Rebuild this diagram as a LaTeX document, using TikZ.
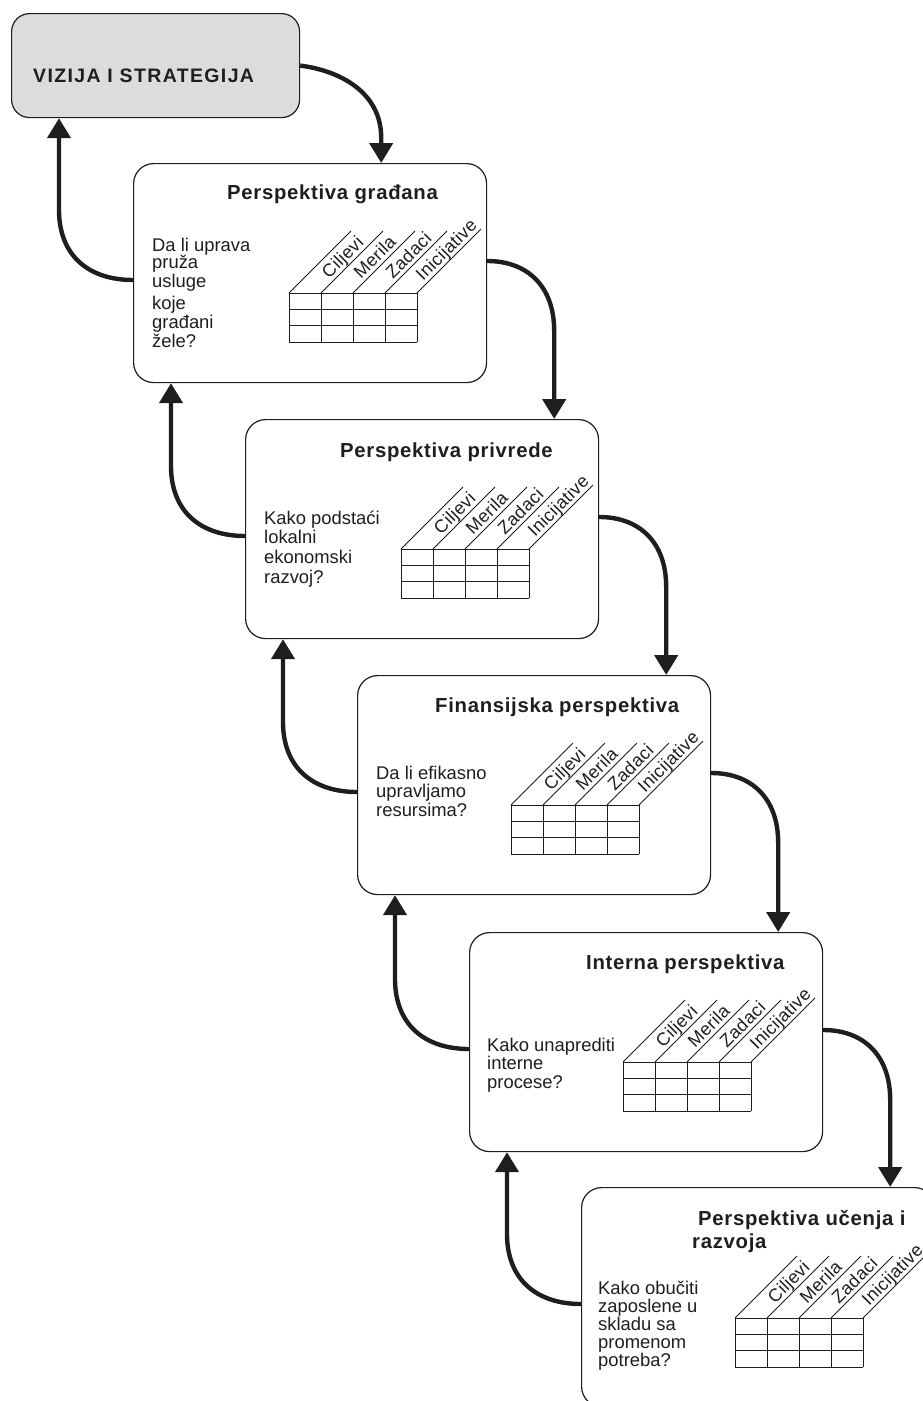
\documentclass[tikz,border=0pt]{standalone}
\usepackage{fontspec}
\setmainfont{Liberation Sans}
\newfontfamily\titlefont{Liberation Sans}[LetterSpace=3.5]
\newfontfamily\lblfont{Liberation Sans}[LetterSpace=2]
\newfontfamily\vizfont{Liberation Sans}[LetterSpace=7]
\usetikzlibrary{arrows.meta,calc}
\definecolor{ink}{HTML}{1E1E1E}
\definecolor{boxgray}{HTML}{DCDCDC}
\tikzset{
  box/.style={draw=ink, line width=1.2pt, rounded corners=20pt, minimum width=353pt,
    minimum height=219pt, inner sep=0pt, anchor=north west, fill=white},
  conn/.style={draw=ink, line width=4.4pt, -{Triangle[width=23pt,length=20pt]}},
  ttl/.style={anchor=base west, inner sep=0pt, text=ink,
    font=\titlefont\bfseries\fontsize{20.3}{23}\selectfont},
  qtext/.style={anchor=north west, inner sep=0pt, align=left, text=ink,
    font=\fontsize{18.4}{18.8}\selectfont},
  lbl/.style={anchor=base west, inner sep=0pt, rotate=45, text=ink,
    font=\lblfont\fontsize{18}{18}\selectfont},
  gridln/.style={draw=ink, line width=1pt},
  diagln/.style={draw=ink, line width=0.8pt},
  tbl/.pic={
    \foreach \k in {0,32,64,96,128} \draw[gridln] (\k,0) -- (\k,49);
    \foreach \r in {0,16.3,32.6,49} \draw[gridln] (0,\r) -- (128,\r);
    \foreach \k in {0,32,64,96} \draw[diagln] (\k,0) -- ++(62,-62);
    \draw[diagln] (128,0) -- ++(64,-64);
    \foreach \k/\t/\s in {32/Ciljevi/8, 64/Merila/8, 96/Zadaci/8, 128/Inicijative/6}
      \node[lbl] (-l\k) at (\k+\s,-\s-5.5) {\t};
  }
}
\begin{document}
\begin{tikzpicture}[x=1pt,y=-1pt]
\useasboundingbox (0,0) rectangle (923,1401);
\clip (0,0) rectangle (923,1401);

% boxes
\node[box, fill=boxgray, rounded corners=18pt, minimum width=288pt, minimum height=104pt] (v) at (11,13) {};
\node[anchor=base west, inner sep=0pt, text=ink, font=\vizfont\bfseries\fontsize{19.5}{22}\selectfont] (vt) at (33,82) {VIZIJA I STRATEGIJA};

\node[box] (b1) at (133,163) {};
\node[box] (b2) at (245,419) {};
\node[box] (b3) at (357,675) {};
\node[box] (b4) at (469,932) {};
\node[box] (b5) at (581,1187) {};

% titles
\node[ttl] (h1) at ($(b1.north west)+(94,36)$) {Perspektiva građana};
\node[ttl] (h2) at ($(b2.north west)+(95,38)$) {Perspektiva privrede};
\node[ttl] (h3) at ($(b3.north west)+(78,37)$) {Finansijska perspektiva};
\node[ttl] (h4) at ($(b4.north west)+(117,37)$) {Interna perspektiva};
\node[ttl, anchor=north west, align=left] (h5) at ($(b5.north west)+(111,23)$) {\hspace*{6pt}Perspektiva učenja i\\razvoja};

% questions
\node[qtext] (q1) at ($(b1.north west)+(19,74.5)$) {Da li uprava\\[-1.5pt]pruža\\usluge\\[4pt]koje\\građani\\žele?};
\node[qtext, font=\fontsize{18.4}{19.6}\selectfont] (q2) at ($(b2.north west)+(19,91.5)$) {Kako podstaći\\lokalni\\ekonomski\\razvoj?};
\node[qtext] (q3) at ($(b3.north west)+(19,90.5)$) {Da li efikasno\\upravljamo\\resursima?};
\node[qtext] (q4) at ($(b4.north west)+(18,105.5)$) {Kako unaprediti\\interne\\procese?};
\node[qtext, font=\fontsize{18.4}{18.2}\selectfont] (q5) at ($(b5.north west)+(17,93.5)$) {Kako obučiti\\zaposlene u\\skladu sa\\promenom\\potreba?};

% tables
\pic (t1) at ($(b1.north west)+(156,130)$) {tbl};
\pic (t2) at ($(b2.north west)+(156,130)$) {tbl};
\pic (t3) at ($(b3.north west)+(154,130)$) {tbl};
\pic (t4) at ($(b4.north west)+(154,130)$) {tbl};
\pic (t5) at ($(b5.north west)+(154,131)$) {tbl};

% downward connectors
\coordinate (a0b) at ($(v.east)+(81,0)$);
\draw[conn] (v.east) .. controls +(40,5) and +(0,-45) .. ($(a0b)+(0,72)$) -- (a0b |- b1.north);

\foreach \s/\t in {b1/b2, b2/b3, b3/b4, b4/b5}{
  \coordinate (\s da) at ($(\s.north east)+(0,98)$);
  \coordinate (\s db) at ($(\s da)+(67,0)$);
  \draw[conn] (\s da) .. controls +(40,0) and +(0,-45) .. ($(\s db)+(0,70)$) -- (\s db |- \t.north);
}

% upward connectors
\foreach \s/\t in {b1/v, b2/b1, b3/b2, b4/b3, b5/b4}{
  \coordinate (\s ua) at ($(\s.north west)+(0,117)$);
  \coordinate (\s ub) at ($(\s ua)+(-74,0)$);
  \draw[conn] (\s ua) .. controls +(-45,0) and +(0,45) .. ($(\s ub)+(0,-70)$) -- (\s ub |- \t.south);
}
\end{tikzpicture}
\end{document}
